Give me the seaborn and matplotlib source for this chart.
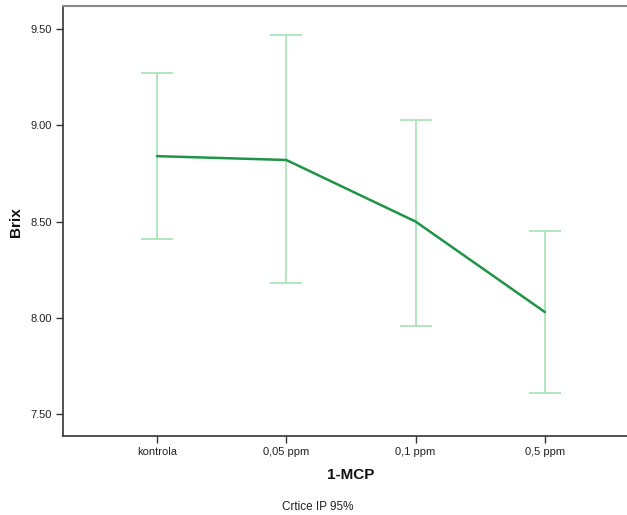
import matplotlib
matplotlib.use("Agg")
import matplotlib.pyplot as plt
import seaborn as sns
import pandas as pd

# podaci sa slike
kategorije = ["kontrola", "0,05 ppm", "0,1 ppm", "0,5 ppm"]
srednje = [8.84, 8.82, 8.50, 8.03]
donja = [8.41, 8.18, 7.96, 7.61]
gornja = [9.27, 9.47, 9.03, 8.45]
y_ticks = [7.50, 8.00, 8.50, 9.00, 9.50]

sns.set_theme(style="white")
plt.rcParams["font.family"] = ["Liberation Sans", "DejaVu Sans"]

df = pd.DataFrame({"MCP": kategorije, "Brix": srednje, "low": donja, "high": gornja})
df["x"] = range(len(df))

fig = plt.figure(figsize=(6.27, 5.15), dpi=100)
ax = fig.add_axes([63 / 627, 79 / 515, 1 - 63 / 627, 430 / 515])

# intervali povjerenja
ax.errorbar(df["x"], df["Brix"],
            yerr=[df["Brix"] - df["low"], df["high"] - df["Brix"]],
            fmt="none", ecolor="#a6e3b4", elinewidth=1.2, capsize=11.5, capthick=1.2, zorder=2)

# linija srednjih vrijednosti
sns.lineplot(data=df, x="x", y="Brix", ax=ax, color="#1f9447", linewidth=1.8, zorder=3)

ax.set_xlim(-0.727, 3.635)
ax.set_ylim(7.386, 9.62)
ax.set_xticks(df["x"])
ax.set_xticklabels(kategorije, fontsize=8, color="#222222")
ax.set_yticks(y_ticks)
ax.set_yticklabels([f"{v:.2f}" for v in y_ticks], fontsize=8, color="#222222")
ax.tick_params(axis="both", direction="out", length=5, width=1, color="#333333", pad=3)
ax.xaxis.set_ticks_position("bottom")
ax.yaxis.set_ticks_position("left")

for s in ["left", "bottom"]:
    ax.spines[s].set_color("#333333")
    ax.spines[s].set_linewidth(1.2)
ax.spines["top"].set_color("#888888")
ax.spines["top"].set_linewidth(1.5)
ax.spines["right"].set_visible(False)

ax.set_xlabel("1-MCP", fontsize=11, fontweight="bold", color="#111111")
ax.set_ylabel("Brix", fontsize=11, fontweight="bold", color="#111111")
ax.xaxis.set_label_coords((351 - 63) / 564, -(475 - 436) / 430)
ax.yaxis.set_label_coords(-(63 - 16) / 564, (436 - 222) / 430)
ax.xaxis.label.set_va("center")
ax.yaxis.label.set_va("center")

fig.text(318 / 627, 1 - 507 / 515, "Crtice IP 95%", fontsize=8.5, ha="center", va="center", color="#222222")

fig.savefig("out.png", dpi=100)
